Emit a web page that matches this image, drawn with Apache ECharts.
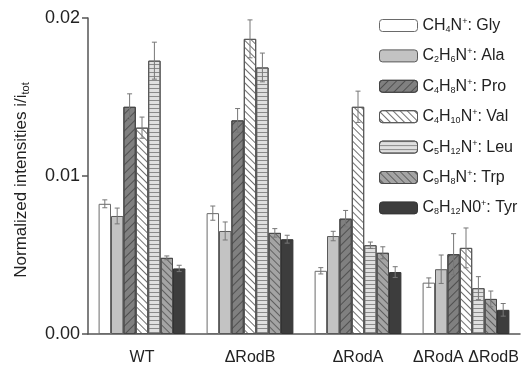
<!DOCTYPE html>
<html><head><meta charset="utf-8">
<script src="https://cdn.jsdelivr.net/npm/echarts@6/dist/echarts.min.js"></script>
<style>html,body{margin:0;padding:0;background:#fff}#c{width:526px;height:366px}</style>
</head><body><div id="c"></div>
<script>
const categories = ['WT', 'ΔRodB', 'ΔRodA', 'ΔRodA ΔRodB'];
const seriesNames = ['CH4N+: Gly', 'C2H6N+: Ala', 'C4H8N+: Pro', 'C4H10N+: Val', 'C5H12N+: Leu', 'C9H8N+: Trp', 'C8H12N0+: Tyr'];
const legendRich = ['CH{s|4}N{p|+}: Gly', 'C{s|2}H{s|6}N{p|+}: Ala', 'C{s|4}H{s|8}N{p|+}: Pro', 'C{s|4}H{s|10}N{p|+}: Val', 'C{s|5}H{s|12}N{p|+}: Leu', 'C{s|9}H{s|8}N{p|+}: Trp', 'C{s|8}H{s|12}N0{p|+}: Tyr'];
const gly = [0.00824, 0.00765, 0.00400, 0.00325];
const ala = [0.00747, 0.00652, 0.00620, 0.00410];
const pro = [0.01438, 0.01352, 0.00730, 0.00505];
const val = [0.01306, 0.01868, 0.01438, 0.00545];
const leu = [0.01730, 0.01687, 0.00562, 0.00290];
const trp = [0.00482, 0.00640, 0.00514, 0.00222];
const tyr = [0.00415, 0.00600, 0.00392, 0.00153];
const glyErr = [0.00025, 0.00045, 0.00020, 0.00030];
const alaErr = [0.00050, 0.00057, 0.00030, 0.00090];
const proErr = [0.00082, 0.00075, 0.00052, 0.00130];
const valErr = [0.00067, 0.00120, 0.00099, 0.00126];
const leuErr = [0.00117, 0.00091, 0.00020, 0.00073];
const trpErr = [0.00012, 0.00027, 0.00038, 0.00050];
const tyrErr = [0.00020, 0.00025, 0.00034, 0.00040];
const yTicks = [0, 0.01, 0.02];

const values = [gly, ala, pro, val, leu, trp, tyr];
const errors = [glyErr, alaErr, proErr, valErr, leuErr, trpErr, tyrErr];
const fills = ['#ffffff', '#c3c3c3', '#808080', '#ffffff', '#e0e0e0', '#a4a4a4', '#3d3d3d'];
const borders = ['#6a6a6a', '#5a5a5a', '#444444', '#555555', '#555555', '#4a4a4a', '#333333'];
const decals = [
  null,
  null,
  {symbol: 'rect', symbolSize: 1, dashArrayX: [[1, 0]], dashArrayY: [1, 5], rotation: -Math.PI / 4, color: '#505050'},
  {symbol: 'rect', symbolSize: 1, dashArrayX: [[1, 0]], dashArrayY: [1, 4], rotation: Math.PI / 4, color: '#707070'},
  {symbol: 'rect', symbolSize: 1, dashArrayX: [[1, 0]], dashArrayY: [1, 3], rotation: 0, color: '#8a8a8a'},
  {symbol: 'rect', symbolSize: 1, dashArrayX: [[1, 0]], dashArrayY: [1, 4], rotation: Math.PI / 4, color: '#606060'},
  null
];
const barW = 12.4;

const series = values.map((v, i) => ({
  type: 'bar', name: seriesNames[i], data: v,
  barWidth: barW, barGap: '0%',
  itemStyle: Object.assign({color: fills[i], borderColor: borders[i], borderWidth: 1}, decals[i] ? {decal: decals[i]} : {}),
  emphasis: {disabled: true}
}));

const errData = [];
errors.forEach((e, s) => e.forEach((d, c) => errData.push([c, s, values[s][c] - d, values[s][c] + d])));

series.push({
  type: 'custom', name: 'err', data: errData, z: 10, silent: true,
  encode: {x: 0, y: [2, 3]},
  renderItem: function (params, api) {
    const c = api.value(0), s = api.value(1);
    const p1 = api.coord([c, api.value(2)]);
    const p2 = api.coord([c, api.value(3)]);
    const x = p1[0] + (s - 3) * barW;
    const hw = 2.5;
    const st = {stroke: '#777', lineWidth: 1};
    return {type: 'group', children: [
      {type: 'line', shape: {x1: x, y1: p1[1], x2: x, y2: p2[1]}, style: st},
      {type: 'line', shape: {x1: x - hw, y1: p1[1], x2: x + hw, y2: p1[1]}, style: st},
      {type: 'line', shape: {x1: x - hw, y1: p2[1], x2: x + hw, y2: p2[1]}, style: st}
    ]};
  }
});

const chart = echarts.init(document.getElementById('c'), null, {renderer: 'canvas'});
chart.setOption({
  animation: false,
  backgroundColor: '#fff',
  textStyle: {fontFamily: 'Liberation Sans, Arial, sans-serif'},
  grid: {left: 88, top: 18, width: 432, bottom: 30, containLabel: false},
  legend: {
    data: seriesNames, orient: 'vertical', left: 374, top: 12,
    itemWidth: 38, itemHeight: 12, itemGap: 13.4,
    formatter: function (n) { return legendRich[seriesNames.indexOf(n)]; },
    textStyle: {fontSize: 16, color: '#222', fontFamily: 'Liberation Sans, Arial, sans-serif',
      rich: {s: {fontSize: 9, padding: [8, 0, 0, 0], color: '#222'}, p: {fontSize: 9, padding: [0, 0, 8, 0], color: '#222'}}},
    itemStyle: {borderWidth: 1}
  },
  xAxis: {
    type: 'category', data: categories,
    axisLine: {lineStyle: {color: '#555', width: 1.5}},
    axisTick: {show: false},
    axisLabel: {fontSize: 16, color: '#222', margin: 16, interval: 0}
  },
  yAxis: {
    type: 'value', min: 0, max: 0.02, interval: 0.01,
    name: 'Normalized intensities i/i{s|tot}', nameLocation: 'middle', nameGap: 57,
    nameTextStyle: {fontSize: 17, color: '#222', padding: [0, 8, 0, 0],
      rich: {s: {fontSize: 11, padding: [8, 0, 0, 0], color: '#222'}}},
    axisLine: {show: true, lineStyle: {color: '#555', width: 1.5}},
    axisTick: {show: true, length: 6, lineStyle: {color: '#555', width: 1.5}},
    axisLabel: {fontSize: 18, color: '#222', margin: 8, formatter: v => v.toFixed(2)},
    splitLine: {show: false}
  },
  series: series
});
</script></body></html>
